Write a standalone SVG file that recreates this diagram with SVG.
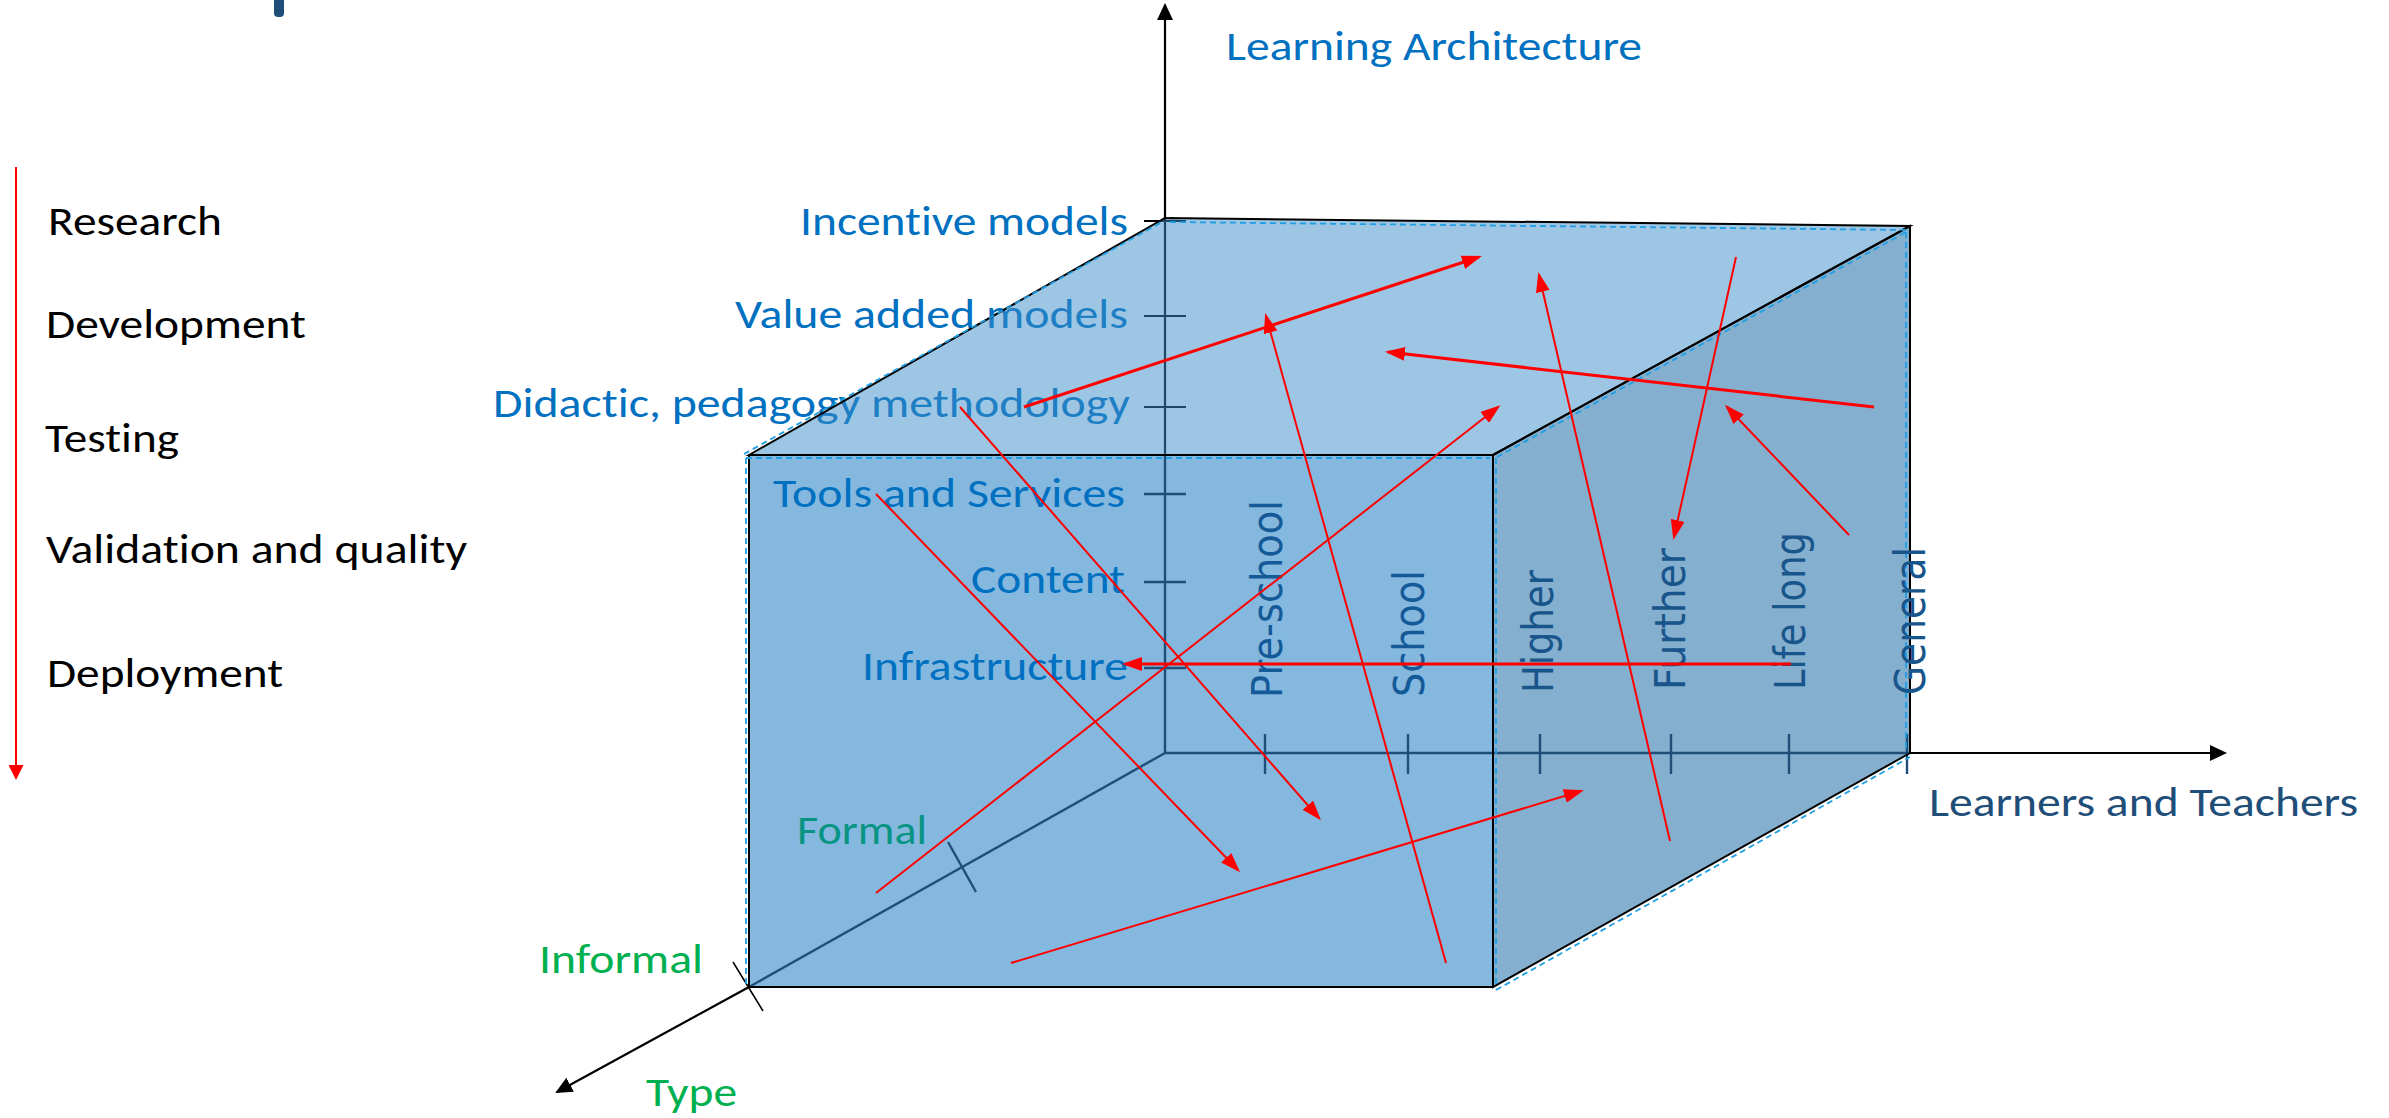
<svg xmlns="http://www.w3.org/2000/svg" width="2389" height="1118" viewBox="0 0 2389 1118">
<style>
text{font-variant-ligatures:none;font-feature-settings:"liga" 0,"clig" 0}
.cal{font-family:Calibri,Carlito,Lato,"Liberation Sans",sans-serif;font-size:42px}
.vt{font-family:Tahoma,"DejaVu Sans",sans-serif;font-size:42px}
.blk{fill:#000000}
.blu{fill:#0070C0}
.grn{fill:#00B050}
.red{stroke:#FF0000;fill:none;stroke-width:2}
.red3{stroke-width:3}
.nav{stroke:#1F4E79;stroke-width:2.4;fill:none}
.bk{stroke:#000000;stroke-width:2;fill:none}
.dash{stroke:#1E9FE3;stroke-width:1.8;stroke-dasharray:6 4;fill:none}
</style>
<defs>
<marker id="ra" markerUnits="userSpaceOnUse" markerWidth="20" markerHeight="14" refX="17" refY="7" orient="auto"><path d="M0,0 L20,7 L0,14 z" fill="#FF0000"/></marker>
<marker id="rl" markerUnits="userSpaceOnUse" markerWidth="15" markerHeight="15" refX="13" refY="7.5" orient="auto"><path d="M0,0 L15,7.5 L0,15 z" fill="#FF0000"/></marker>
<marker id="ba" markerUnits="userSpaceOnUse" markerWidth="17" markerHeight="16" refX="15" refY="8" orient="auto"><path d="M0,0 L17,8 L0,16 z" fill="#000000"/></marker>
</defs>
<rect x="0" y="0" width="2389" height="1118" fill="#FFFFFF"/>

<rect id="title-fragment" x="274" y="-6" width="10" height="23" rx="4" fill="#1F4E79"/>

<g id="process-list">
<line x1="16" y1="167" x2="16" y2="778" stroke="#FF0000" stroke-width="2" marker-end="url(#rl)"/>
<text class="cal blk" x="48" y="235" textLength="174" lengthAdjust="spacingAndGlyphs">Research</text>
<text class="cal blk" x="46" y="338" textLength="260" lengthAdjust="spacingAndGlyphs">Development</text>
<text class="cal blk" x="45" y="452" textLength="134" lengthAdjust="spacingAndGlyphs">Testing</text>
<text class="cal blk" x="46" y="563" textLength="421" lengthAdjust="spacingAndGlyphs">Validation and quality</text>
<text class="cal blk" x="47" y="687" textLength="236" lengthAdjust="spacingAndGlyphs">Deployment</text>
</g>

<g id="cube-front-side">
<rect x="749" y="455" width="744" height="532" fill="#84B8DF"/>
<polygon points="1493,455 1910,226 1910,753 1493,987" fill="#85AFCF"/>
</g>

<g id="inner-axes">
<line class="nav" x1="1165" y1="455" x2="1165" y2="753"/>
<line class="nav" x1="1165" y1="753" x2="1910" y2="753"/>
<line class="nav" x1="1165" y1="753" x2="749" y2="987"/>
<line class="nav" x1="1144" y1="494" x2="1186" y2="494"/>
<line class="nav" x1="1144" y1="582" x2="1186" y2="582"/>
<line class="nav" x1="1144" y1="668" x2="1186" y2="668"/>
<line class="nav" x1="1265" y1="734" x2="1265" y2="774"/>
<line class="nav" x1="1408" y1="734" x2="1408" y2="774"/>
<line class="nav" x1="1540" y1="734" x2="1540" y2="774"/>
<line class="nav" x1="1671" y1="734" x2="1671" y2="774"/>
<line class="nav" x1="1789" y1="734" x2="1789" y2="774"/>
<line class="nav" x1="1907" y1="734" x2="1907" y2="774"/>
<line class="nav" x1="948" y1="842" x2="976" y2="892"/>
</g>

<g id="outer-axes">
<line x1="1165" y1="455" x2="1165" y2="5" stroke="#000" stroke-width="2.2" marker-end="url(#ba)"/>
<line x1="1910" y1="753" x2="2225" y2="753" stroke="#000" stroke-width="2.2" marker-end="url(#ba)"/>
<line x1="749" y1="987" x2="557" y2="1092" stroke="#000" stroke-width="2.2" marker-end="url(#ba)"/>
<line class="bk" x1="1144" y1="221" x2="1186" y2="221"/>
<line class="bk" x1="1144" y1="316" x2="1186" y2="316"/>
<line class="bk" x1="1144" y1="407" x2="1186" y2="407"/>
<line x1="733" y1="962" x2="763" y2="1011" stroke="#000" stroke-width="1.5"/>
</g>

<g id="top-labels">
<text class="cal blu" x="1128" y="235" text-anchor="end" textLength="328" lengthAdjust="spacingAndGlyphs">Incentive models</text>
<text class="cal blu" x="1128" y="328" text-anchor="end" textLength="393" lengthAdjust="spacingAndGlyphs">Value added models</text>
<text class="cal blu" x="1130" y="417" text-anchor="end" textLength="637" lengthAdjust="spacingAndGlyphs">Didactic, pedagogy methodology</text>
</g>

<g id="cube-top">
<polygon points="749,455 1165,218 1910,226 1493,455" fill="#3B8DC9" fill-opacity="0.5"/>
</g>

<g id="cube-edges">
<polygon class="bk" points="749,455 1493,455 1493,987 749,987"/>
<polygon class="bk" points="1493,455 1910,226 1910,753 1493,987"/>
<polygon class="bk" points="749,455 1165,218 1910,226 1493,455"/>
<line class="dash" x1="744" y1="454" x2="1162" y2="222"/>
<line class="dash" x1="1170" y1="222" x2="1906" y2="230"/>
<line class="dash" x1="746" y1="458" x2="1490" y2="458"/>
<line class="dash" x1="746" y1="458" x2="746" y2="987"/>
<line class="dash" x1="1496" y1="458" x2="1496" y2="985"/>
<line class="dash" x1="1906" y1="232" x2="1906" y2="752"/>
<line class="dash" x1="1497" y1="457" x2="1906" y2="232"/>
<line class="dash" x1="1496" y1="990" x2="1910" y2="757"/>
</g>

<g id="front-labels">
<text class="cal blu" x="1125" y="507" text-anchor="end" textLength="352" lengthAdjust="spacingAndGlyphs">Tools and Services</text>
<text class="cal blu" x="1125" y="593" text-anchor="end" textLength="154" lengthAdjust="spacingAndGlyphs">Content</text>
<text class="cal blu" x="1128" y="680" text-anchor="end" textLength="266" lengthAdjust="spacingAndGlyphs">Infrastructure</text>
<text class="cal" x="797" y="844" fill="#079482" textLength="130" lengthAdjust="spacingAndGlyphs">Formal</text>
</g>

<g id="learner-labels">
<text class="vt" transform="translate(1282,698) rotate(-90)" fill="#155A98" textLength="198" lengthAdjust="spacingAndGlyphs">Pre-school</text>
<text class="vt" transform="translate(1424,697) rotate(-90)" fill="#155A98" textLength="127" lengthAdjust="spacingAndGlyphs">School</text>
<text class="vt" transform="translate(1553,693) rotate(-90)" fill="#18558B" textLength="123" lengthAdjust="spacingAndGlyphs">Higher</text>
<text class="vt" transform="translate(1685,690) rotate(-90)" fill="#18558B" textLength="142" lengthAdjust="spacingAndGlyphs">Further</text>
<text class="vt" transform="translate(1805,690) rotate(-90)" fill="#18558B" textLength="158" lengthAdjust="spacingAndGlyphs">Life long</text>
<text class="vt" transform="translate(1925,695) rotate(-90)" fill="#18558B" textLength="148" lengthAdjust="spacingAndGlyphs">General</text>
</g>

<g id="connectors">
<line class="red red3" x1="1024" y1="407" x2="1479" y2="257" marker-end="url(#ra)"/>
<line class="red" x1="1446" y1="963" x2="1266" y2="316" marker-end="url(#ra)"/>
<line class="red" x1="1670" y1="841" x2="1539" y2="275" marker-end="url(#ra)"/>
<line class="red red3" x1="1874" y1="407" x2="1388" y2="352" marker-end="url(#ra)"/>
<line class="red" x1="1736" y1="257" x2="1674" y2="537" marker-end="url(#ra)"/>
<line class="red" x1="1849" y1="535" x2="1727" y2="407" marker-end="url(#ra)"/>
<line class="red" x1="876" y1="893" x2="1498" y2="407" marker-end="url(#ra)"/>
<line class="red" x1="876" y1="494" x2="1238" y2="870" marker-end="url(#ra)"/>
<line class="red" x1="960" y1="407" x2="1319" y2="818" marker-end="url(#ra)"/>
<line class="red red3" x1="1791" y1="664" x2="1125" y2="664" marker-end="url(#ra)"/>
<line class="red" x1="1011" y1="963" x2="1581" y2="791" marker-end="url(#ra)"/>
</g>

<g id="axis-labels">
<text class="cal blu" x="1226" y="60" textLength="416" lengthAdjust="spacingAndGlyphs">Learning Architecture</text>
<text class="cal" x="1929" y="816" fill="#1F4E79" textLength="429" lengthAdjust="spacingAndGlyphs">Learners and Teachers</text>
<text class="cal grn" x="539" y="973" textLength="164" lengthAdjust="spacingAndGlyphs">Informal</text>
<text class="cal grn" x="646" y="1106" textLength="91" lengthAdjust="spacingAndGlyphs">Type</text>
</g>
</svg>
